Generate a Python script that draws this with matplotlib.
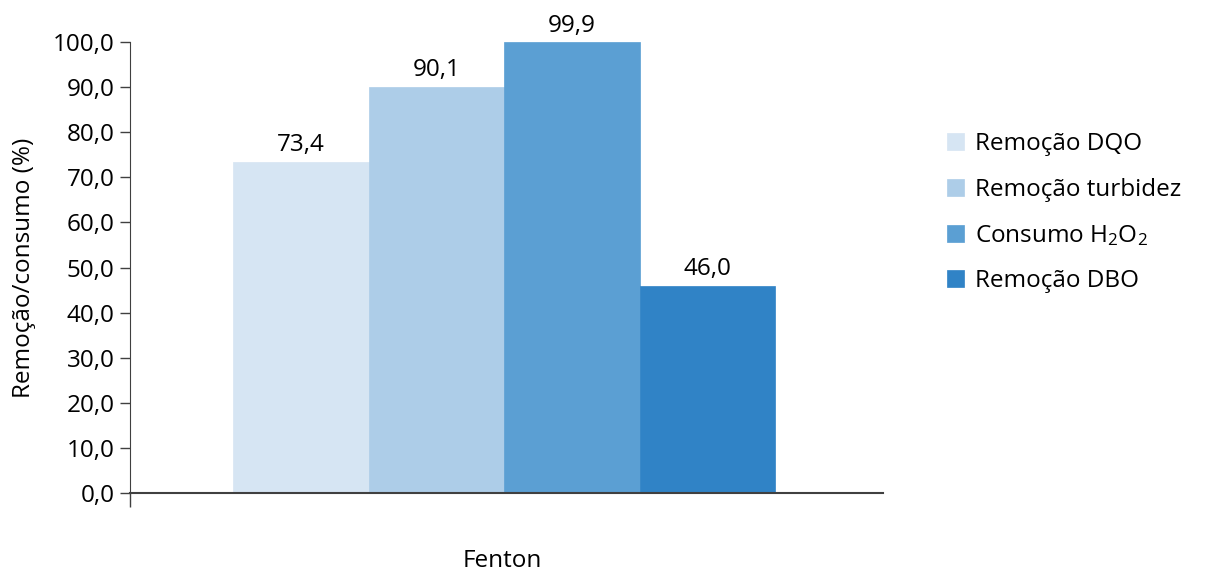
import matplotlib
matplotlib.use("Agg")
import matplotlib.pyplot as plt

plt.rcParams['font.family'] = ['Open Sans', 'DejaVu Sans']
plt.rcParams['mathtext.fontset'] = 'custom'
plt.rcParams['mathtext.rm'] = 'Open Sans'
plt.rcParams['mathtext.it'] = 'Open Sans'

# data
category = 'Fenton'
series = ['Remoção DQO', 'Remoção turbidez', r'Consumo H$_2$O$_2$', 'Remoção DBO']
values = [73.4, 90.1, 99.9, 46.0]
colors = ['#d6e5f3', '#adcde8', '#5b9fd3', '#3083c6']
yticks = [0, 10, 20, 30, 40, 50, 60, 70, 80, 90, 100]

FS = 17.5

fig = plt.figure(figsize=(12.05, 5.75), dpi=100)
ax = fig.add_axes([0.1079, 0.1426, 0.6249, 0.7843])

w = 0.18
for i, (name, v, c) in enumerate(zip(series, values, colors)):
    x = -0.363 + w * (i + 0.5)
    ax.bar(x, v, width=w, color=c, label=name, edgecolor=c, linewidth=0.5)
    ax.text(x, v + 1.0, f'{v:.1f}'.replace('.', ','), ha='center', va='bottom',
            fontsize=FS)

ax.set_xlim(-0.5, 0.5)
ax.set_ylim(0, 100)
ax.set_yticks(yticks)
ax.set_yticklabels([f'{t:.1f}'.replace('.', ',') for t in yticks], fontsize=FS)
ax.set_xticks([-0.5])
ax.set_xticklabels([''])
ax.tick_params(axis='x', direction='out', length=10, width=1, color='#404040')
ax.tick_params(axis='y', direction='out', length=7, width=1, color='#404040', pad=4)

for s in ['top', 'right']:
    ax.spines[s].set_visible(False)
ax.spines['left'].set_color('#404040')
ax.spines['bottom'].set_color('#404040')
ax.spines['bottom'].set_linewidth(1.5)

ax.set_ylabel('Remoção/consumo (%)', fontsize=FS, labelpad=12)
fig.text(0.417, 0.003, category, ha='center', va='bottom', fontsize=FS)

leg = ax.legend(loc='upper left', bbox_to_anchor=(0.776, 0.791), bbox_transform=fig.transFigure,
                frameon=False, fontsize=FS, handlelength=0.7, handleheight=0.7,
                handletextpad=0.45, labelspacing=0.88, borderpad=0)

fig.savefig('out.png', dpi=100)
